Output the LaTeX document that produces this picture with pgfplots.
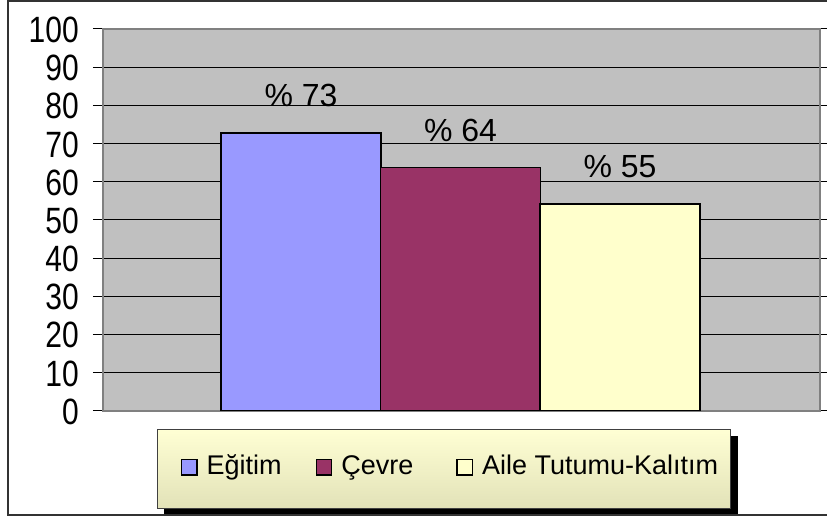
\documentclass[border=0pt]{standalone}
\usepackage{fontspec}
\setmainfont{Liberation Sans}
\usepackage{graphicx}
\usepackage{pgfplots}
\pgfplotsset{compat=1.18}
\usetikzlibrary{backgrounds}
\definecolor{plotgray}{RGB}{192,192,192}
\definecolor{framegray}{RGB}{128,128,128}
\definecolor{barA}{RGB}{153,153,255}
\definecolor{barB}{RGB}{153,51,102}
\definecolor{barC}{RGB}{255,255,204}
\definecolor{legTop}{RGB}{255,255,212}
\definecolor{legBot}{RGB}{226,226,184}
\begin{document}
\begin{tikzpicture}
\useasboundingbox (0pt,0pt) rectangle (827pt,518pt);
\draw[line width=1.5pt, draw=black!80] (8pt,3pt) rectangle (840pt,517pt);
\begin{axis}[
  at={(103pt,107.3pt)}, anchor=south west,
  scale only axis, width=717pt, height=381.7pt,
  xmin=103, xmax=820, ymin=0, ymax=100,
  ytick={0,10,...,100},
  xtick=\empty,
  tick align=outside, major tick length=10pt,
  ytick style={black, line width=1pt},
  ymajorgrids, major grid style={black, line width=1pt},
  axis line style={draw=framegray, line width=2pt},
  axis background/.style={fill=plotgray},
  /pgf/number format/assume math mode=true,
  yticklabel={\scalebox{1}[1.22]{\pgfmathprintnumber{\tick}}},
  yticklabel style={font=\fontsize{30}{32}\selectfont, black, inner sep=0pt, xshift=-14pt, yshift=-1pt},
  ybar, bar width=160, bar shift=0pt,
  point meta=explicit symbolic,
  nodes near coords={\%~\pgfplotspointmeta},
  nodes near coords style={font=\fontsize{32}{34}\selectfont, inner sep=0pt, anchor=south, yshift=25pt, black},
  legend columns=3,
  legend image code/.code={\draw[#1, draw=black, line width=1.3pt] (0pt,-6.2pt) rectangle (15.5pt,9.3pt);},
  legend style={name=leg, at={(rel axis cs:0.0753,0)}, anchor=north west, yshift=-18pt,
    draw=black!75, line width=1pt, top color=legTop, bottom color=legBot,
    inner xsep=12pt, inner ysep=25pt,
    font=\fontsize{27}{29}\selectfont,
    nodes={inner sep=0pt, text height=20pt, text depth=9pt},
    /tikz/every odd column/.append style={column sep=9pt},
    /tikz/every even column/.append style={column sep=0pt}},
]
\addplot[fill=barA, draw=black, line width=1.8pt,
  legend image code/.code={\path (-11pt,0pt); \draw[fill=barA, draw=black, line width=1.3pt] (0pt,-6.2pt) rectangle (15.5pt,9.3pt);}]
  coordinates {(301,72.7) [73]};
\addlegendentry{Eğitim\kern34pt}
\addplot[fill=barB, draw=black, line width=1.8pt] coordinates {(460.5,63.7) [64]};
\addlegendentry{Çevre\kern43pt}
\addplot[fill=barC, draw=black, line width=1.8pt] coordinates {(620,54.2) [55]};
\addlegendentry{Aile Tutumu-Kalıtım}
\end{axis}
\begin{pgfonlayer}{background}
\fill[black] ([shift={(7pt,-7pt)}]leg.south west) rectangle ([shift={(7pt,-7pt)}]leg.north east);
\end{pgfonlayer}
\end{tikzpicture}
\end{document}
